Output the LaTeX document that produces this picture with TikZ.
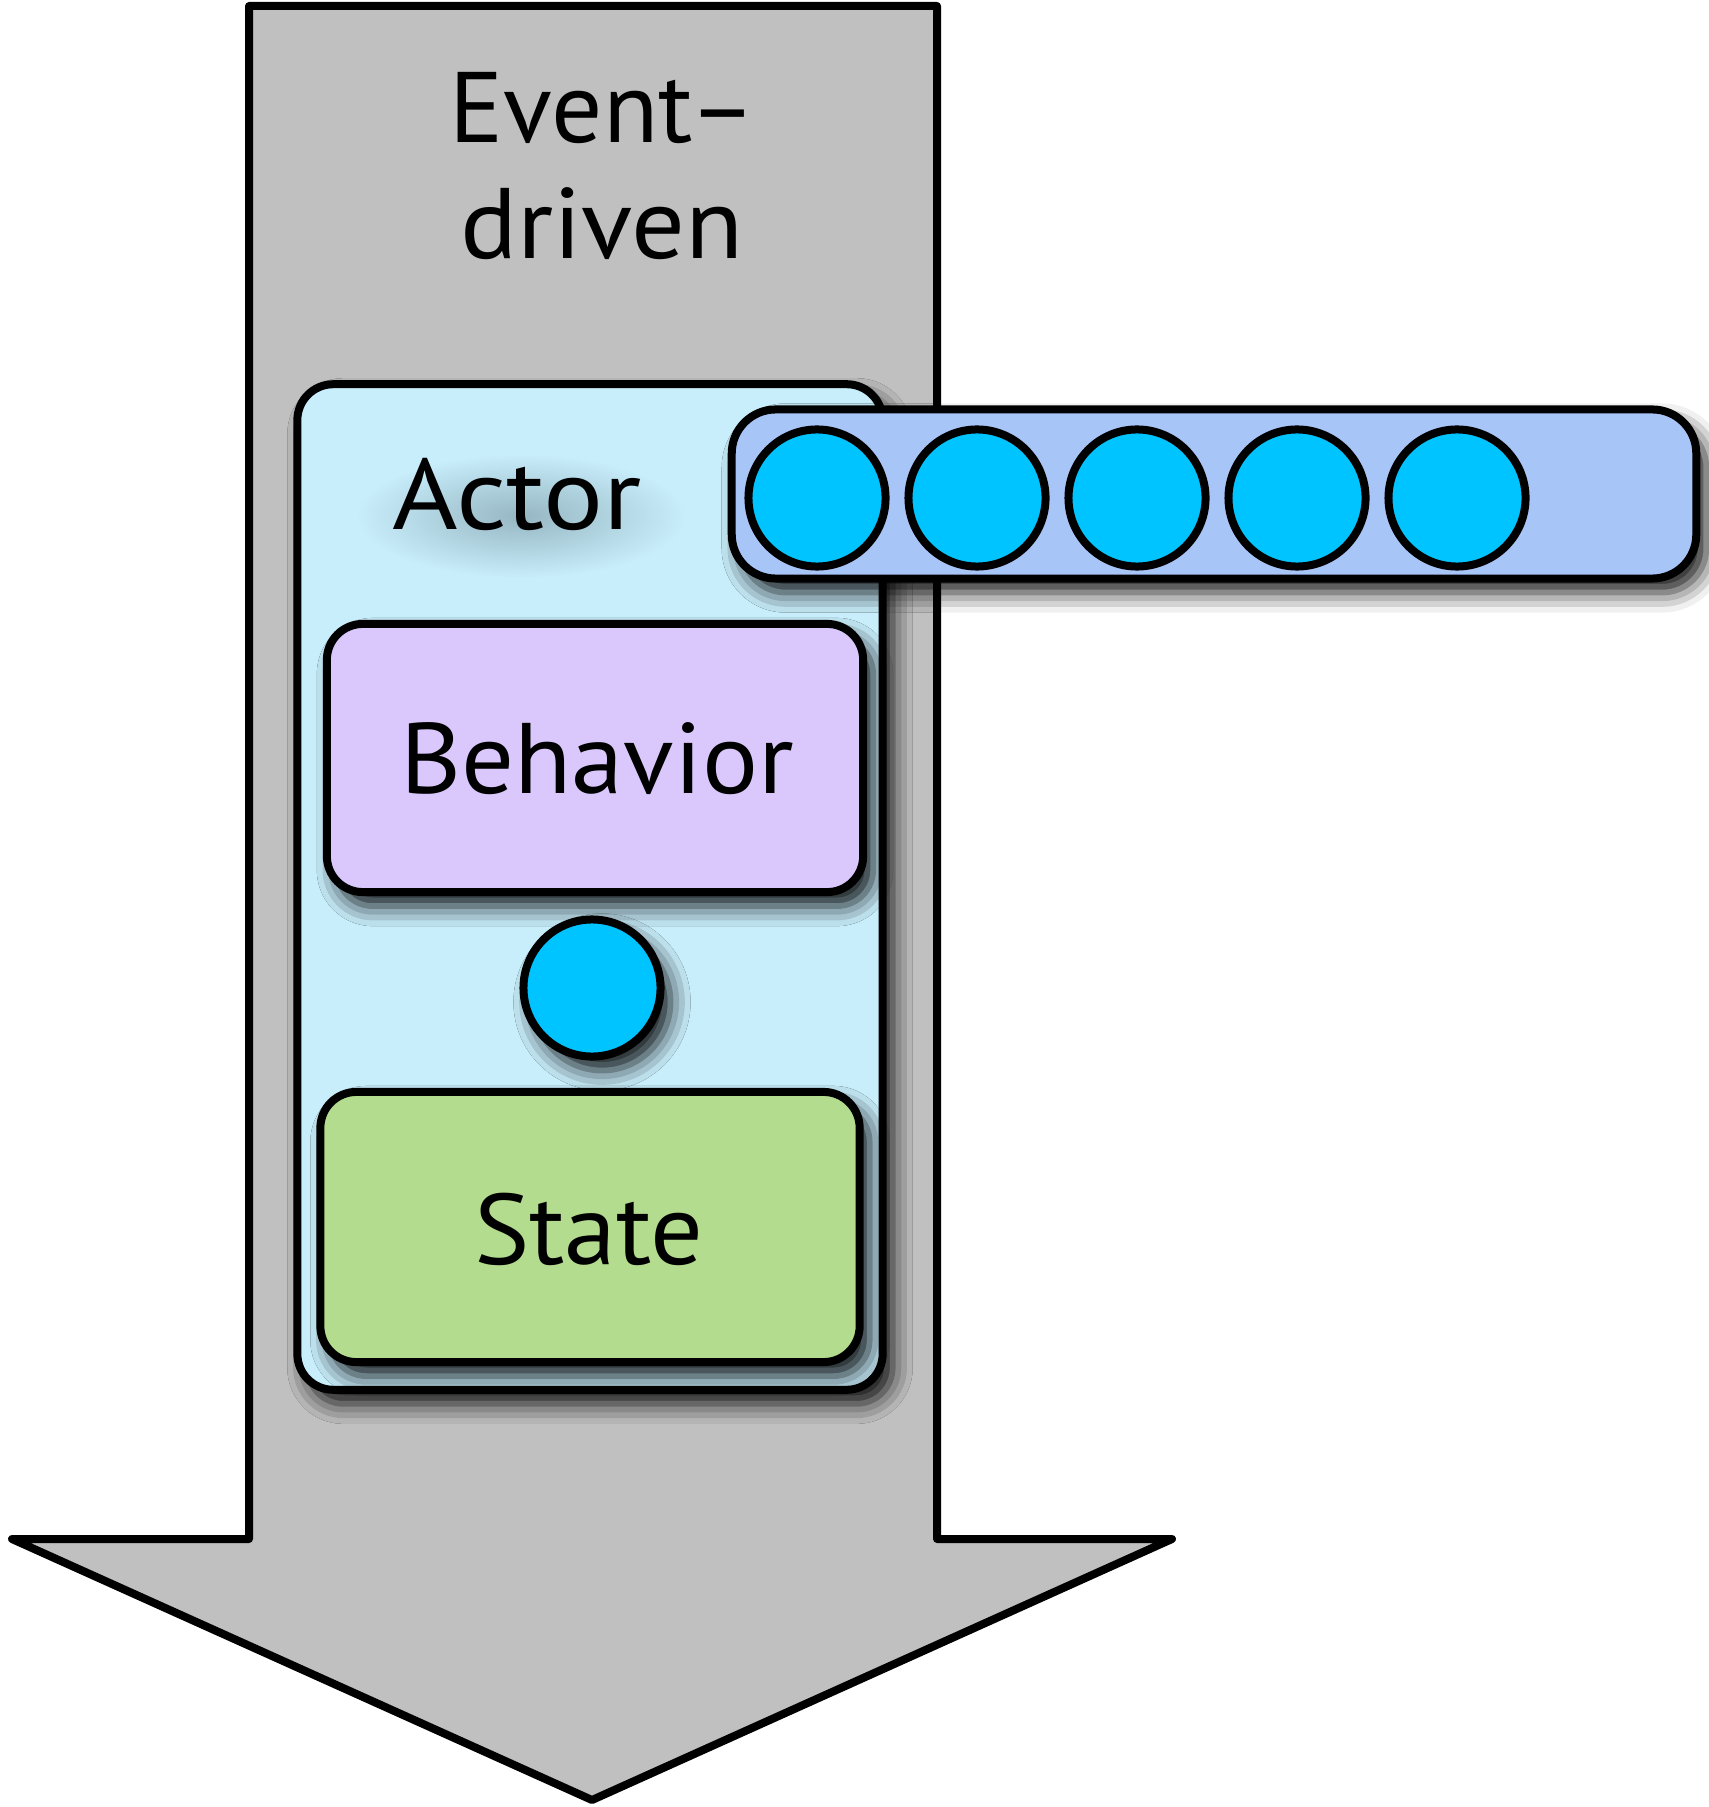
\documentclass[tikz,border=0pt]{standalone}
\usepackage{fontspec}
\setmainfont{PT Sans}
\usetikzlibrary{shadows.blur}

\definecolor{arrowgray}{RGB}{192,192,192}
\definecolor{actorfill}{RGB}{200,237,251}
\definecolor{mailfill}{RGB}{168,197,248}
\definecolor{msgfill}{RGB}{0,196,255}
\definecolor{behfill}{RGB}{218,200,252}
\definecolor{statefill}{RGB}{179,220,142}
\definecolor{hazecore}{RGB}{150,182,194}

\newcommand{\wide}[2]{\scalebox{#1}[1]{#2}}

\begin{document}
\begin{tikzpicture}[x=0.01cm, y=-0.01cm,
  outline/.style={draw=black, line width=0.08cm, line join=round},
  panel/.style={outline, rounded corners=0.36cm, inner sep=0pt},
  dropshadow/.style={blur shadow={shadow xshift=0.1cm, shadow yshift=-0.14cm,
      shadow blur radius=0.2cm, shadow opacity=92}},
  msg/.style={outline, circle, fill=msgfill, minimum size=1.37cm, inner sep=0pt},
  label/.style={font=\fontsize{28.5}{33}\selectfont, anchor=base, inner sep=0pt}]
\useasboundingbox (0,0) rectangle (1708,1807);

% the big downward arrow
\draw[outline, fill=arrowgray]
  (249,6) -- (937,6) -- (937,1539) -- (1172,1539) -- (592,1800)
  -- (12,1539) -- (249,1539) -- cycle;
\node[label] (ev1) at (603,143) {\wide{1.01}{Event–}};
\node[label] (ev2) at (602,259) {\wide{1.06}{driven}};

% actor container
\node[panel, fill=actorfill, dropshadow, minimum width=5.85cm, minimum height=10.05cm]
  (actor) at (590,887) {};
% soft haze under the actor caption
\shade[inner color=hazecore, outer color=actorfill] (521,516) ellipse (165 and 62);
\node[label] (actorlbl) at (517,530) {\wide{1.12}{Actor}};

% behavior, message in flight, state
\node[panel, fill=behfill, dropshadow, minimum width=5.36cm, minimum height=2.68cm]
  (beh) at (595,758) {};
\node[label] (behlbl) at (597,793) {\wide{1.045}{Behavior}};
\node[msg, dropshadow] (cur) at (592,988) {};
\node[panel, fill=statefill, dropshadow, minimum width=5.39cm, minimum height=2.70cm]
  (state) at (590,1227) {};
\node[label] (statelbl) at (589,1264) {\wide{1.04}{State}};

% mailbox with queued messages
\node[panel, rounded corners=0.44cm, fill=mailfill, dropshadow,
  minimum width=9.64cm, minimum height=1.69cm] (mailbox) at (1214,494) {};
\foreach \i/\cx in {1/817,2/977,3/1137,4/1297,5/1457}{
  \node[msg] (m\i) at (\cx,498) {};
}
\end{tikzpicture}
\end{document}
